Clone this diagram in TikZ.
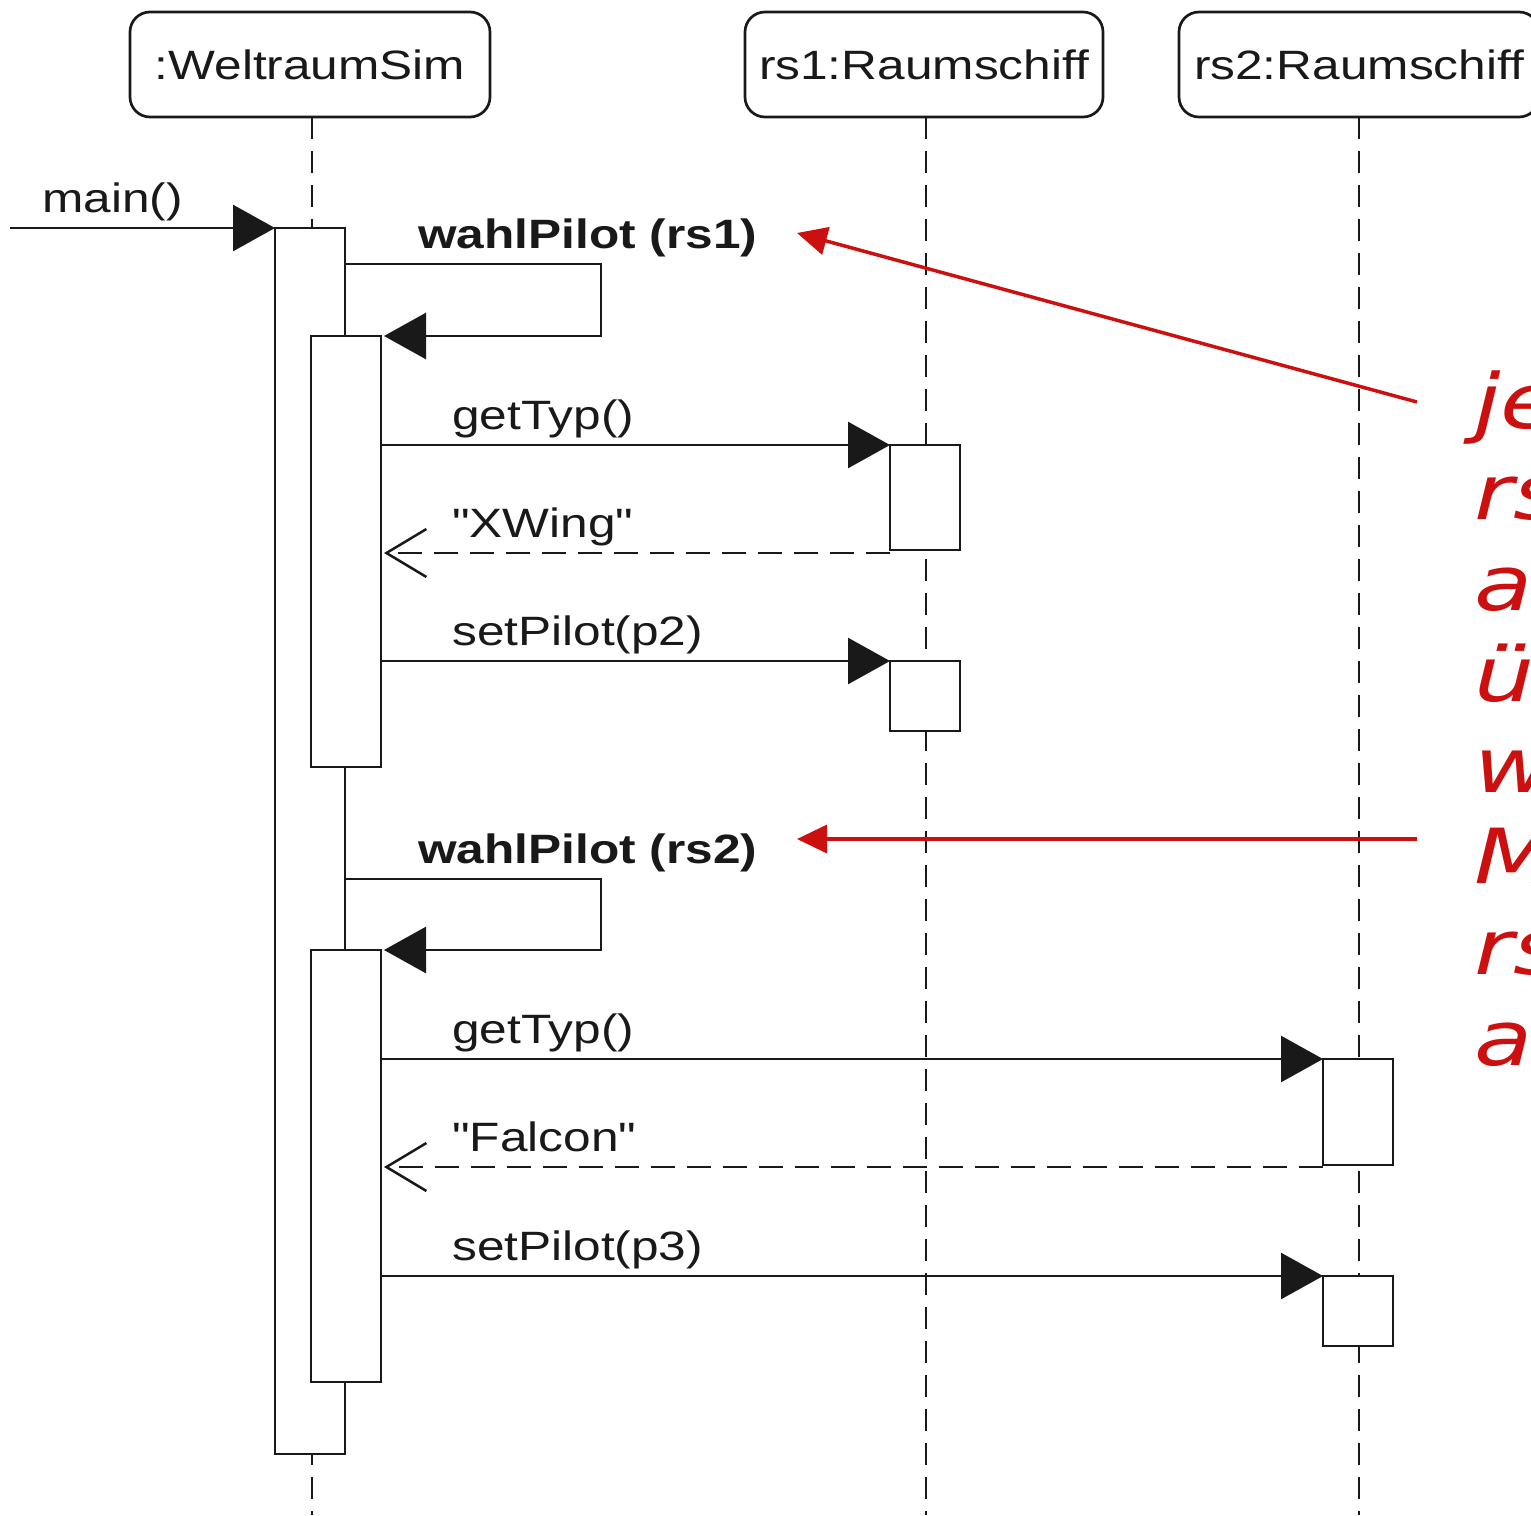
\documentclass[tikz,border=0pt]{standalone}
\usepackage{fontspec}
\setmainfont{Liberation Sans}[FakeStretch=1.21, Ligatures=TeXOff]
\newfontfamily\notefont{DejaVu Sans}[FakeStretch=1.25]
\usetikzlibrary{arrows.meta}
\definecolor{notered}{RGB}{204,16,16}
\definecolor{ink}{RGB}{25,25,25}
\tikzset{
  lbl/.style={font=\fontsize{41}{48}\selectfont, inner sep=0pt, text=ink, anchor=base west},
  objbox/.style={draw=ink, line width=2.7pt, rounded corners=20pt, minimum height=105pt, inner sep=0pt,
                 font=\fontsize{41}{48}\selectfont, text=ink},
  life/.style={draw=ink, line width=2.5pt, dash pattern=on 22pt off 12pt},
  act/.style={draw=ink, fill=white, line width=2.7pt, minimum width=70pt, inner sep=0pt, outer sep=0pt},
  msg/.style={draw=ink, line width=2.7pt, -{Triangle[length=42pt,width=46pt]}},
  ret/.style={draw=ink, line width=2.5pt, dash pattern=on 24pt off 12pt, -{Straight Barb[length=40pt,width=48pt,line width=2.5pt]}},
  notearrow/.style={draw=notered, line width=3.5pt, -{Triangle[length=30pt,width=28pt]}},
  note/.style={font=\notefont\itshape\fontsize{76}{91}\selectfont, text=notered, inner sep=0pt, align=left, anchor=base west}
}
\begin{document}
\begin{tikzpicture}[x=1pt,y=-1pt]
\useasboundingbox (0,0) rectangle (1531,1515);
\clip (0,0) rectangle (1531,1515);
% objects
\node[objbox, minimum width=360pt] (ws) at (310,64.5) {:WeltraumSim};
\node[objbox, minimum width=358pt] (rs1) at (924,64.5) {rs1:Raumschiff};
\node[objbox, minimum width=360pt] (rs2) at (1359,64.5) {rs2:Raumschiff};
% lifelines
\coordinate (wsb) at (312,1515);
\coordinate (rs1b) at (926,1515);
\coordinate (rs2b) at (1359,1515);
\draw[life] (312,117) -- (wsb);
\draw[life] (926,117) -- (rs1b);
\draw[life] (1359,117) -- (rs2b);
% activations
\node[act, minimum height=1226pt] (a1) at (310,841) {};
\node[act, minimum height=431pt] (a2) at (346,551.5) {};
\node[act, minimum height=432pt] (a3) at (346,1166) {};
\node[act, minimum height=105pt] (r1a) at (925,497.5) {};
\node[act, minimum height=70pt] (r1b) at (925,696) {};
\node[act, minimum height=106pt] (r2a) at (1358,1112) {};
\node[act, minimum height=70pt] (r2b) at (1358,1311) {};
% main
\coordinate (start) at (10,228);
\draw[msg] (start) -- (a1.north west);
\node[lbl] (lmain) at (42,212) {main()};
% self message 1
\coordinate (s1a) at (601,264);
\coordinate (s1b) at (601,336);
\draw[msg] (a1.east |- s1a) -- (s1a) -- (s1b) -- ([xshift=3pt]a2.north east);
\node[lbl, font=\fontsize{41}{48}\selectfont\bfseries] (wp1) at (418,248) {wahlPilot (rs1)};
% getTyp 1
\draw[msg] (a2.east |- r1a.north) -- (r1a.north west);
\node[lbl] (lg1) at (452,429) {getTyp()};
% XWing
\draw[ret] ([yshift=-3pt]r1a.south west) -- ([xshift=3pt,yshift=-3pt]a2.east |- r1a.south);
\node[lbl] (lx) at (452,537) {"XWing"};
% setPilot p2
\draw[msg] (a2.east |- r1b.north) -- (r1b.north west);
\node[lbl] (ls2) at (452,645) {setPilot(p2)};
% self message 2
\coordinate (s2a) at (601,879);
\coordinate (s2b) at (601,950);
\draw[msg] (a1.east |- s2a) -- (s2a) -- (s2b) -- ([xshift=3pt]a3.north east);
\node[lbl, font=\fontsize{41}{48}\selectfont\bfseries] (wp2) at (418,863) {wahlPilot (rs2)};
% getTyp 2
\draw[msg] (a3.east |- r2a.north) -- (r2a.north west);
\node[lbl] (lg2) at (452,1043) {getTyp()};
% Falcon
\draw[ret] ([yshift=-2pt]r2a.south west) -- ([xshift=3pt,yshift=-2pt]a3.east |- r2a.south);
\node[lbl] (lf) at (452,1151) {"Falcon"};
% setPilot p3
\draw[msg] (a3.east |- r2b.north) -- (r2b.north west);
\node[lbl] (ls3) at (452,1260) {setPilot(p3)};
% note
\node[note] (nt) at (1474,1065) {je\\rs\\an\\üb\\w\\M\\rs\\au};
\coordinate (n1) at (1417,402);
\coordinate (n2) at (1417,839);
\coordinate (t1) at (797,233);
\coordinate (t2) at (797,839);
\draw[notearrow] (n1) -- (t1);
\draw[notearrow] (n2) -- (t2);
\end{tikzpicture}
\end{document}
